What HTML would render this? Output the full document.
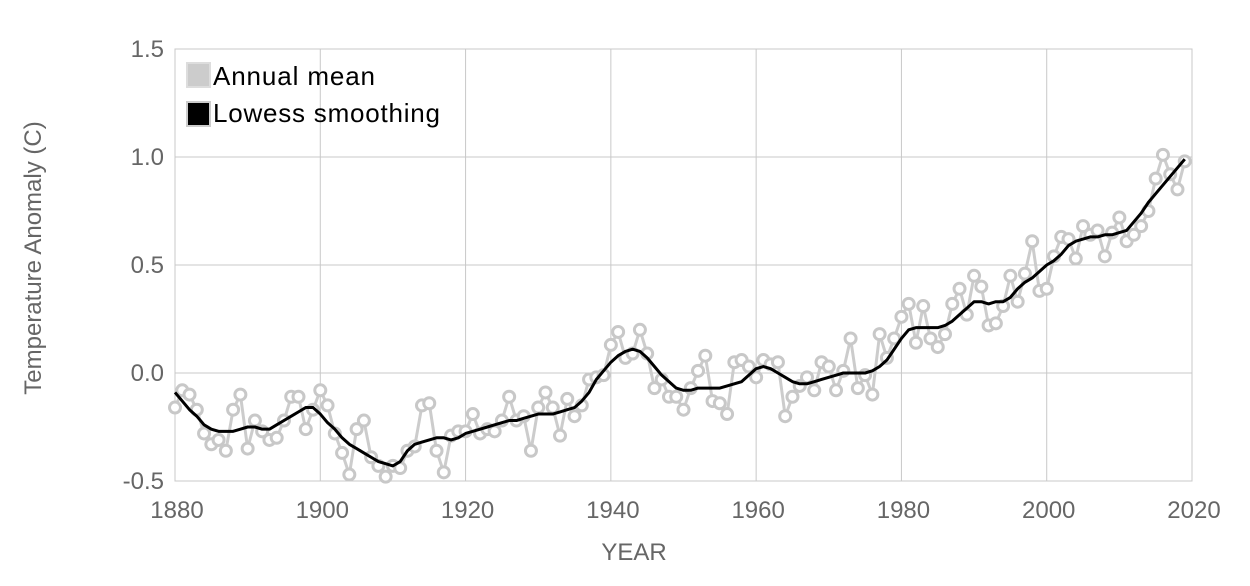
<!DOCTYPE html>
<html><head><meta charset="utf-8"><style>
body{margin:0;background:#fff;}
svg{display:block;font-family:"Liberation Sans",sans-serif;}
</style></head><body>
<svg id="chart" width="1250" height="586"></svg>
<script>
const years=[];for(let y=1880;y<=2019;y++)years.push(y);
const annualMean=[-0.16,-0.08,-0.10,-0.17,-0.28,-0.33,-0.31,-0.36,-0.17,-0.10,-0.35,-0.22,-0.27,-0.31,-0.30,-0.22,-0.11,-0.11,-0.26,-0.17,-0.08,-0.15,-0.28,-0.37,-0.47,-0.26,-0.22,-0.39,-0.43,-0.48,-0.43,-0.44,-0.36,-0.34,-0.15,-0.14,-0.36,-0.46,-0.29,-0.27,-0.27,-0.19,-0.28,-0.26,-0.27,-0.22,-0.11,-0.22,-0.20,-0.36,-0.16,-0.09,-0.16,-0.29,-0.12,-0.20,-0.15,-0.03,-0.02,-0.01,0.13,0.19,0.07,0.09,0.20,0.09,-0.07,-0.03,-0.11,-0.11,-0.17,-0.07,0.01,0.08,-0.13,-0.14,-0.19,0.05,0.06,0.03,-0.02,0.06,0.04,0.05,-0.20,-0.11,-0.06,-0.02,-0.08,0.05,0.03,-0.08,0.01,0.16,-0.07,-0.01,-0.10,0.18,0.07,0.16,0.26,0.32,0.14,0.31,0.16,0.12,0.18,0.32,0.39,0.27,0.45,0.40,0.22,0.23,0.31,0.45,0.33,0.46,0.61,0.38,0.39,0.54,0.63,0.62,0.53,0.68,0.64,0.66,0.54,0.65,0.72,0.61,0.64,0.68,0.75,0.90,1.01,0.92,0.85,0.98];
const lowess=[-0.09,-0.13,-0.17,-0.20,-0.24,-0.26,-0.27,-0.27,-0.27,-0.26,-0.25,-0.25,-0.26,-0.26,-0.24,-0.22,-0.20,-0.18,-0.16,-0.16,-0.19,-0.23,-0.26,-0.30,-0.33,-0.35,-0.37,-0.39,-0.41,-0.42,-0.43,-0.41,-0.36,-0.33,-0.32,-0.31,-0.30,-0.30,-0.31,-0.30,-0.28,-0.27,-0.26,-0.25,-0.24,-0.23,-0.22,-0.22,-0.21,-0.20,-0.19,-0.19,-0.19,-0.18,-0.17,-0.16,-0.13,-0.09,-0.03,0.01,0.05,0.08,0.10,0.11,0.10,0.07,0.03,-0.01,-0.04,-0.07,-0.08,-0.08,-0.07,-0.07,-0.07,-0.07,-0.06,-0.05,-0.04,-0.01,0.02,0.03,0.02,0.00,-0.02,-0.04,-0.05,-0.05,-0.04,-0.03,-0.02,-0.01,0.00,0.00,0.00,0.00,0.01,0.03,0.06,0.11,0.16,0.20,0.21,0.21,0.21,0.21,0.22,0.24,0.27,0.30,0.33,0.33,0.32,0.33,0.33,0.35,0.39,0.42,0.44,0.47,0.50,0.52,0.55,0.59,0.61,0.62,0.63,0.63,0.64,0.64,0.65,0.66,0.70,0.74,0.79,0.83,0.87,0.91,0.95,0.99];
const xTicks=[1880,1900,1920,1940,1960,1980,2000,2020];
const yTicks=[-0.5,0.0,0.5,1.0,1.5];
const yTickLabels=["-0.5","0.0","0.5","1.0","1.5"];

const L=175,R=1192,T=49,B=481;
const sx=v=>L+(v-1880)/140*(R-L);
const sy=v=>B-(v+0.5)/2*(B-T);
const svg=document.getElementById('chart');
const NS='http://www.w3.org/2000/svg';
function mk(tag,a,parent){const e=document.createElementNS(NS,tag);for(const k in a)e.setAttribute(k,a[k]);(parent||svg).appendChild(e);return e;}

const grid=mk('g',{});


xTicks.forEach(t=>{
  mk('line',{x1:sx(t),x2:sx(t),y1:T,y2:B,stroke:'#c8c8c8','stroke-width':1},grid);
  const tx=mk('text',{x:sx(t)+2,y:518,'text-anchor':'middle','font-size':24,fill:'#666'});
  tx.textContent=t;
  
  
});
yTicks.forEach((t,i)=>{
  mk('line',{x1:L,x2:R,y1:sy(t),y2:sy(t),stroke:'#c8c8c8','stroke-width':1},grid);
  const tx=mk('text',{x:164,y:sy(t)+8,'text-anchor':'end','font-size':24,fill:'#666'});
  tx.textContent=yTickLabels[i];
  
  
});
mk('rect',{x:L,y:T,width:R-L,height:B-T,fill:'none',stroke:'#c8c8c8'},grid);

const ann=mk('g',{});


mk('polyline',{points:years.map((y,i)=>sx(y)+','+sy(annualMean[i])).join(' '),fill:'none',stroke:'#cccccc','stroke-width':3},ann);
years.forEach((y,i)=>{
  const c=mk('circle',{cx:sx(y),cy:sy(annualMean[i]),r:5.5,fill:'#fff',stroke:'#c8c8c8','stroke-width':3},ann);
  
  
});
const lw=mk('polyline',{points:years.map((y,i)=>sx(y)+','+sy(lowess[i])).join(' '),fill:'none',stroke:'#000','stroke-width':3,'stroke-linejoin':'round'});



const lg=mk('g',{});


mk('rect',{x:187,y:63,width:23,height:24,fill:'#ccc',stroke:'#ddd','stroke-width':2},lg);
let t1=mk('text',{x:213,y:85,'font-size':26,fill:'#000',textLength:162},lg);t1.textContent='Annual mean';


mk('rect',{x:187,y:102,width:23,height:24,fill:'#000',stroke:'#ccc','stroke-width':2},lg);
let t2=mk('text',{x:213,y:122,'font-size':26,fill:'#000',textLength:227},lg);t2.textContent='Lowess smoothing';



const xt=mk('text',{x:634,y:560,'text-anchor':'middle','font-size':24,fill:'#666'});xt.textContent='YEAR';


const yt=mk('text',{x:0,y:0,'text-anchor':'middle','font-size':24,fill:'#666',transform:'translate(41,258) rotate(-90)'});yt.textContent='Temperature Anomaly (C)';


</script>
</body></html>
